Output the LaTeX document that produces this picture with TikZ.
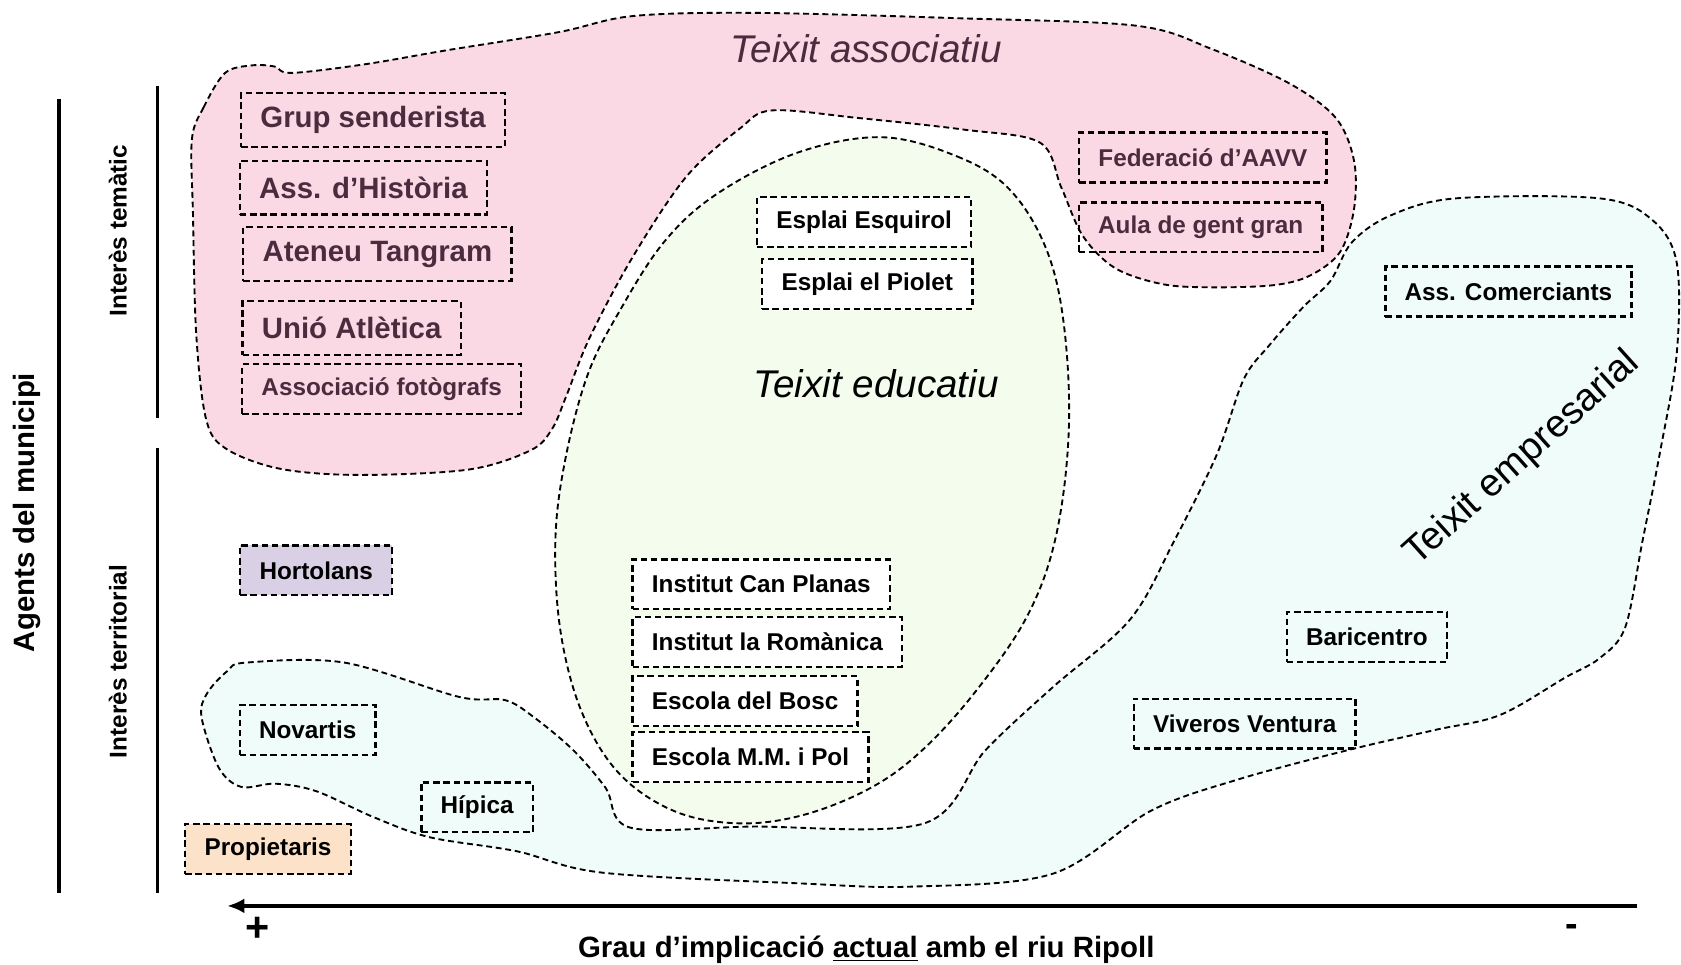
\documentclass[tikz,border=0pt]{standalone}
\usepackage{fontspec}
\setmainfont{Liberation Sans}
\usetikzlibrary{arrows.meta}

\definecolor{assocfill}{RGB}{250,216,228}
\definecolor{edufill}{RGB}{244,252,237}
\definecolor{empfill}{RGB}{240,252,249}
\definecolor{hortfill}{RGB}{218,208,230}
\definecolor{propfill}{RGB}{251,226,200}
\definecolor{plum}{RGB}{74,44,62}

\tikzset{
  region/.style={draw=black, line width=0.035cm, dash pattern=on 0.11cm off 0.07cm},
  agent/.style={draw=black, line width=0.045cm, dash pattern=on 0.12cm off 0.07cm,
    font=\fontsize{12.9}{14}\selectfont\bfseries, inner xsep=0.36cm, minimum height=0.93cm},
  agentgran/.style={agent, font=\fontsize{15.6}{18}\selectfont\bfseries, minimum height=1.0cm},
  escola/.style={agent, fill=white},
  titol/.style={font=\fontsize{20.5}{24}\selectfont\itshape},
  eix/.style={font=\fontsize{15.6}{18}\selectfont\bfseries},
  eixpetit/.style={font=\fontsize{12.9}{14}\selectfont\bfseries}
}

\begin{document}
\begin{tikzpicture}[x=0.02cm, y=-0.02cm]
\useasboundingbox (0,0) rectangle (1568,900);

% Teixit empresarial (fill + edge)
\draw[region, fill=empfill] plot[smooth cycle, tension=0.55] coordinates {
  (230,618) (321,618) (428,650) (471,653) (498,669) (535,700) (565,735) (588,772)
  (700,771) (862,768) (919,700) (982,641) (1054,578) (1095,505) (1135,424)
  (1160,354) (1184,322) (1216,286) (1241,262) (1261,226) (1297,201) (1358,185)
  (1492,185) (1541,205) (1564,245) (1564,330) (1548,424) (1532,505) (1516,585)
  (1492,614) (1460,632) (1399,667) (1338,681) (1256,700) (1155,727) (1074,756)
  (982,815) (851,827) (746,824) (562,814) (482,794) (401,781) (348,762) (295,738)
  (257,731) (225,734) (204,716) (188,669) (193,647) (212,626)};

% Teixit associatiu
\draw[region, fill=assocfill] plot[smooth cycle, tension=0.55] coordinates {
  (179,130) (190,100) (210,68) (235,61) (256,62) (272,68) (340,60) (416,47)
  (521,30) (590,15) (703,12) (894,17) (1060,24) (1131,46) (1203,78) (1246,110)
  (1263,150) (1263,195) (1250,235) (1222,257) (1188,266) (1130,268) (1084,265)
  (1040,250) (1010,220) (990,175) (970,133) (900,121) (800,110) (720,103)
  (690,120) (640,165) (590,240) (550,315) (528,370) (515,400) (495,420)
  (437,438) (333,443) (260,437) (210,418) (192,390) (183,311) (180,200)};

% Teixit educatiu
\draw[region, fill=edufill] plot[smooth cycle, tension=0.6] coordinates {
  (823,128) (893,146) (941,176) (975,230) (992,300) (997,400) (985,500)
  (958,575) (910,645) (860,700) (812,735) (750,760) (690,768) (630,757)
  (578,722) (543,665) (523,590) (518,505) (527,430) (548,350) (578,290)
  (620,225) (670,180) (745,142)};

% Titles
\node[titol, text=plum] (tassoc) at (808,45) {Teixit associatiu};
\node[titol] (tedu) at (817,358) {Teixit educatiu};
\node[titol, font=\fontsize{20.5}{24}\selectfont, rotate=42] (temp) at (1420,428) {Teixit empresarial};

% Agents: teixit associatiu
\node[agentgran, text=plum] (grup) at (348,112) {Grup senderista};
\node[agentgran, text=plum] (historia) at (339,175) {Ass. d’Història};
\node[agentgran, text=plum] (ateneu) at (352,237) {Ateneu Tangram};
\node[agentgran, text=plum] (unio) at (328,306) {Unió Atlètica};
\node[agent, text=plum] (foto) at (356,363) {Associació fotògrafs};
\node[agent, text=plum] (aavv) at (1122,147) {Federació d’AAVV};
\node[agent, text=plum] (aula) at (1120,212) {Aula de gent gran};

% Agents: teixit educatiu
\node[escola] (esquirol) at (806,207) {Esplai Esquirol};
\node[escola] (piolet) at (809,265) {Esplai el Piolet};
\node[escola, anchor=west] (canplanas) at (589,545) {Institut Can Planas};
\node[escola, anchor=west] (romanica) at (589,599) {Institut la Romànica};
\node[escola, anchor=west] (bosc) at (589,654) {Escola del Bosc};
\node[escola, anchor=west] (mmpol) at (589,706) {Escola M.M. i Pol};

% Agents: teixit empresarial
\node[agent] (comerciants) at (1407,272) {Ass. Comerciants};
\node[agent] (baricentro) at (1275,594) {Baricentro};
\node[agent] (viveros) at (1161,675) {Viveros Ventura};
\node[agent] (novartis) at (287,681) {Novartis};
\node[agent] (hipica) at (445,753) {Hípica};

% Agents sense teixit
\node[agent, fill=hortfill] (hortolans) at (295,532) {Hortolans};
\node[agent, fill=propfill] (propietaris) at (250,792) {Propietaris};

% Vertical axis
\coordinate (agentsT) at (55,92);
\coordinate (agentsB) at (55,833);
\coordinate (tematT) at (147,80);
\coordinate (tematB) at (147,390);
\coordinate (territT) at (147,418);
\coordinate (territB) at (147,833);
\draw[line width=0.06cm] (agentsT) -- (agentsB);
\draw[line width=0.06cm] (tematT) -- (tematB);
\draw[line width=0.06cm] (territT) -- (territB);
\node[eix, rotate=90] (agents) at (25,478) {Agents del municipi};
\node[eixpetit, rotate=90] (temat) at (110,215) {Interès temàtic};
\node[eixpetit, rotate=90] (territ) at (110,617) {Interès territorial};

% Horizontal axis
\coordinate (grauR) at (1527,845);
\coordinate (grauL) at (212,845);
\draw[line width=0.07cm, -{Latex[length=0.32cm, width=0.28cm]}] (grauR) -- (grauL);
\node[eix, font=\fontsize{22}{24}\selectfont\bfseries] (mes) at (240,867) {+};
\node[eix, font=\fontsize{20}{24}\selectfont\bfseries] (menys) at (1466,868) {-};
\node[eix] (grau) at (808,886) {Grau d’implicació \underline{actual} amb el riu Ripoll};

\end{tikzpicture}
\end{document}
